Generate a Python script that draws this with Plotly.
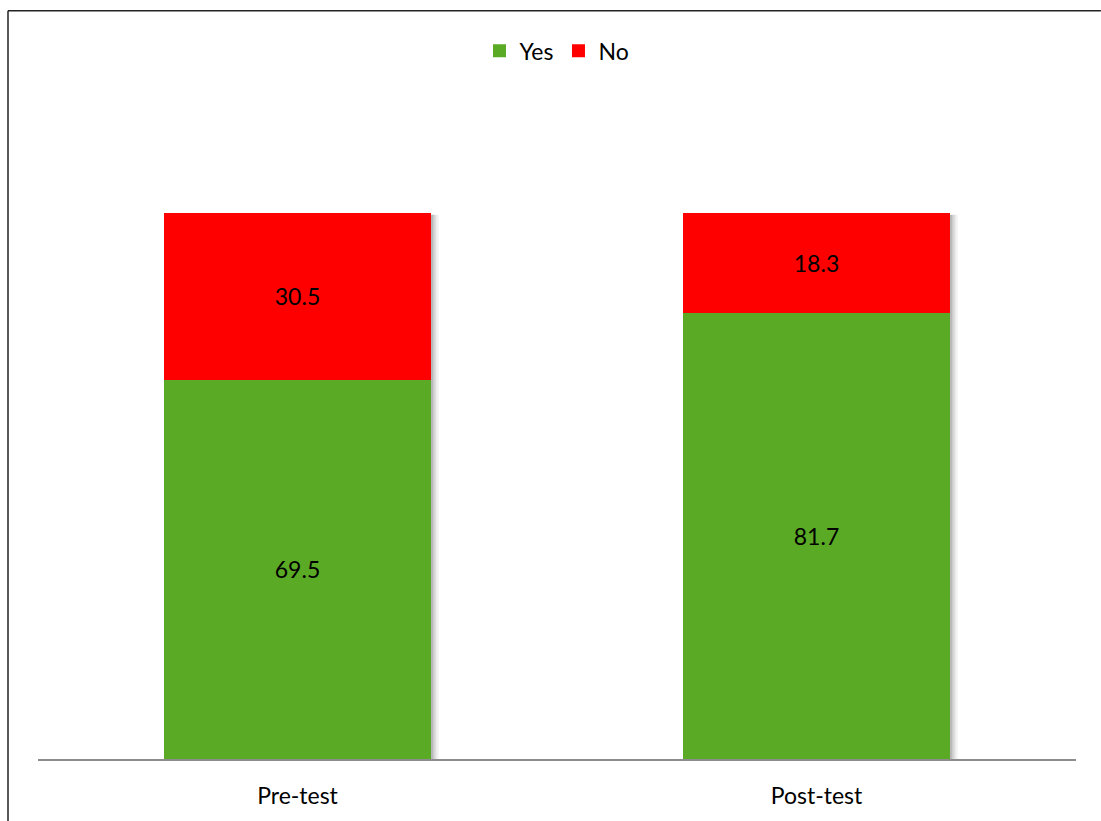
import plotly.graph_objects as go

# Survey responses (%) before and after the intervention
categories = ["Pre-test", "Post-test"]
yes_values = [69.5, 81.7]
no_values = [30.5, 18.3]

series_names = ["Yes", "No"]
series_colors = ["#5BAA26", "#FF0000"]

FONT = "Lato, 'Open Sans', sans-serif"
BAR_WIDTH = 0.514

fig = go.Figure()
for name, vals, color in zip(series_names, [yes_values, no_values], series_colors):
    fig.add_trace(go.Bar(
        name=name,
        x=categories,
        y=vals,
        width=BAR_WIDTH,
        marker=dict(color=color, line=dict(width=0)),
        text=[f"{v:.1f}" for v in vals],
        textposition="inside",
        insidetextanchor="middle",
        textfont=dict(family=FONT, size=23, color="black"),
        hoverinfo="skip",
        showlegend=False,
        legendgroup=name,
    ))

# Legend keys drawn as larger square swatches
for name, color in zip(series_names, series_colors):
    fig.add_trace(go.Scatter(
        x=[None], y=[None], mode="markers", name=name,
        marker=dict(symbol="square", size=13, color=color),
        legendgroup=name, hoverinfo="skip",
    ))

# Soft drop shadow behind each stacked column
shapes = []
for i, (a, b) in enumerate(zip(yes_values, no_values)):
    total = a + b
    for k, op in enumerate([0.10, 0.08, 0.06, 0.04, 0.03]):
        off = 0.004 + k * 0.003
        shapes.append(dict(
            type="rect", xref="x", yref="y", layer="below",
            x0=i - BAR_WIDTH / 2 + 0.004, x1=i + BAR_WIDTH / 2 + off,
            y0=-0.6 - k * 0.25, y1=total - 0.3,
            fillcolor=f"rgba(0,0,0,{op})", line=dict(width=0),
        ))

# Chart frame (top and left edges)
shapes.append(dict(type="line", xref="paper", yref="paper",
                   x0=-0.0289, x1=1.024, y0=1.3704, y1=1.3704,
                   line=dict(color="#222222", width=1.5)))
shapes.append(dict(type="line", xref="paper", yref="paper",
                   x0=-0.0289, x1=-0.0289, y0=-0.2, y1=1.3704,
                   line=dict(color="#222222", width=1.5)))

fig.update_layout(
    barmode="stack",
    width=1101, height=821,
    margin=dict(l=38, r=25, t=213, b=60),
    paper_bgcolor="white",
    plot_bgcolor="white",
    bargap=1 - BAR_WIDTH,
    showlegend=True,
    legend=dict(
        orientation="h",
        x=0.5, xanchor="center",
        y=1.297, yanchor="middle",
        font=dict(family=FONT, size=23, color="black"),
        traceorder="normal",
        itemwidth=30,
    ),
    xaxis=dict(
        showgrid=False,
        showline=True, linecolor="#8C8C8C", linewidth=1.5,
        ticks="",
        ticklabelstandoff=16,
        tickfont=dict(family=FONT, size=23, color="black"),
        zeroline=False,
    ),
    yaxis=dict(
        range=[0, 100],
        visible=False,
        showgrid=False,
        zeroline=False,
    ),
    shapes=shapes,
)

fig.write_html("out.html")
